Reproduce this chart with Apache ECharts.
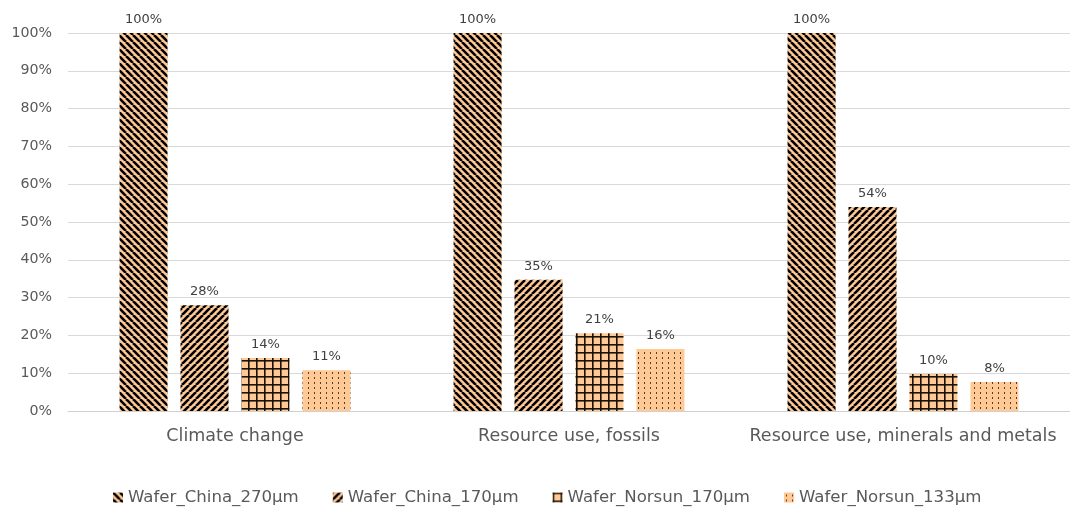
<!DOCTYPE html>
<html><head><meta charset="utf-8">
<script src="https://cdn.jsdelivr.net/npm/echarts@6/dist/echarts.min.js"></script>
<style>html,body{margin:0;padding:0;background:#fff}#c{width:1070px;height:509px}</style>
</head><body><div id="c"></div>
<script>
const categories = ['Climate change', 'Resource use, fossils', 'Resource use, minerals and metals'];
const seriesNames = ['Wafer_China_270μm', 'Wafer_China_170μm', 'Wafer_Norsun_170μm', 'Wafer_Norsun_133μm'];
const china270 = [100, 100, 100];
const china170 = [28.0, 34.7, 54.0];
const norsun170 = [14.0, 20.6, 9.8];
const norsun133 = [10.8, 16.4, 7.7];
const yTicks = [0, 10, 20, 30, 40, 50, 60, 70, 80, 90, 100];

const BG = '#FFC996';
function tile(w, h, draw) {
  const c = document.createElement('canvas');
  c.width = w; c.height = h;
  const g = c.getContext('2d');
  g.fillStyle = BG; g.fillRect(0, 0, w, h);
  g.fillStyle = '#000'; g.strokeStyle = '#000';
  draw(g, w, h);
  return c;
}
function diag(g, s, down) {
  g.lineWidth = 2.6;
  for (let k = -2; k <= 2; k++) {
    g.beginPath();
    if (down) { g.moveTo(k * s, 0); g.lineTo(k * s + s, s); }
    else { g.moveTo(k * s, s); g.lineTo(k * s + s, 0); }
    g.stroke();
  }
}
const pDown = tile(7, 7, (g, w) => diag(g, w, true));
const pUp = tile(7, 7, (g, w) => diag(g, w, false));
const pGrid = tile(8, 8, (g, w, h) => { g.fillStyle = '#1a1208'; g.fillRect(0, 0, w, 1.6); g.fillRect(0, 0, 1.6, h); });
const pDot = tile(6, 5, (g) => { g.fillStyle = '#5a3c22'; g.fillRect(2, 2, 1, 2); });
const patterns = [pDown, pUp, pGrid, pDot];
const dataArr = [china270, china170, norsun170, norsun133];

const FONT = 'DejaVu Sans';
const chart = echarts.init(document.getElementById('c'), null, {renderer: 'canvas'});
chart.setOption({
  animation: false,
  textStyle: {fontFamily: FONT},
  grid: {left: 68, right: 0, top: 33, bottom: 98, containLabel: false},
  legend: {
    top: 484, left: 108, itemWidth: 10, itemHeight: 10, itemGap: 34,
    textStyle: {fontFamily: FONT, fontSize: 16.6, color: '#595959'},
    data: seriesNames.map(n => ({name: n, icon: 'rect'}))
  },
  xAxis: {
    type: 'category', data: categories,
    axisLine: {lineStyle: {color: '#D0D0D0', width: 1}},
    axisTick: {show: false},
    axisLabel: {fontFamily: FONT, fontSize: 17.5, color: '#595959', margin: 16, interval: 0}
  },
  yAxis: {
    type: 'value', min: 0, max: 100, interval: 10,
    axisLine: {show: false}, axisTick: {show: false},
    splitLine: {lineStyle: {color: '#D9D9D9', width: 1}},
    axisLabel: {fontFamily: FONT, fontSize: 14.2, color: '#595959', margin: 16,
      formatter: v => yTicks.includes(v) ? v + '%' : ''}
  },
  series: seriesNames.map((n, i) => ({
    name: n, type: 'bar', data: dataArr[i],
    barWidth: 48, barGap: '27%', barCategoryGap: '30%',
    itemStyle: {color: {image: patterns[i], repeat: 'repeat'}},
    label: {show: true, position: 'top', distance: 7, fontFamily: FONT, fontSize: 13, color: '#404040',
      formatter: p => Math.round(p.value) + '%'}
  }))
});
</script></body></html>
